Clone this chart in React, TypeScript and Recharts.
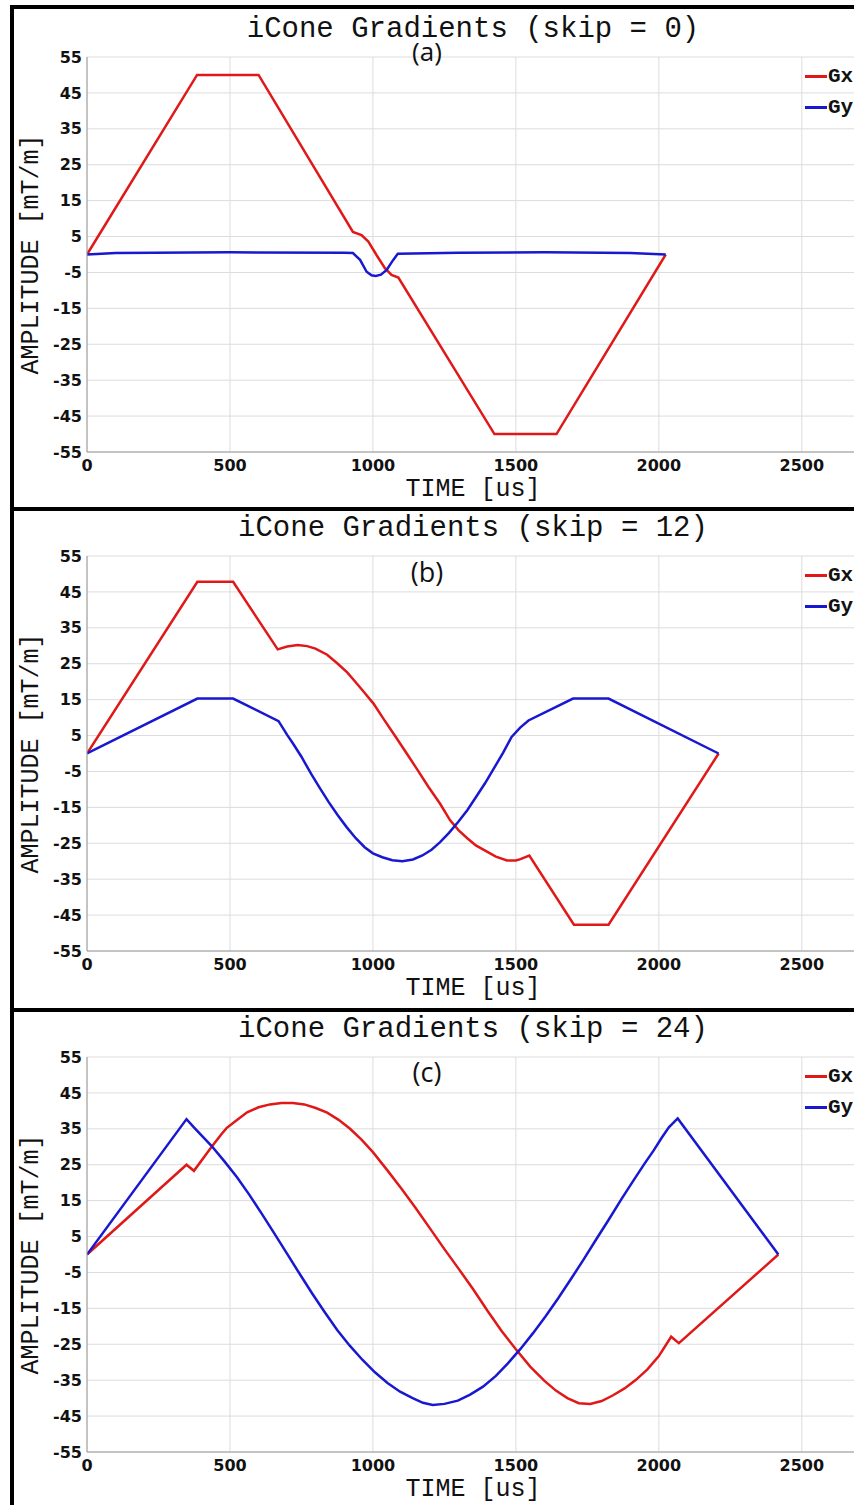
import React from 'react';
import { LineChart, Line, XAxis, YAxis, CartesianGrid, Legend, Label } from 'recharts';

const X_TICKS = [0, 500, 1000, 1500, 2000, 2500];
const Y_TICKS = [-55, -45, -35, -25, -15, -5, 5, 15, 25, 35, 45, 55];
const X_DOMAIN = [0, 2700];
const Y_DOMAIN = [-55, 55];

const TITLES = ['iCone Gradients (skip = 0)', 'iCone Gradients (skip = 12)', 'iCone Gradients (skip = 24)'];
const TAGS = ['(a)', '(b)', '(c)'];
const SERIES_NAMES = ['Gx', 'Gy'];

// Panel (a): skip = 0
const aGxTime = [0, 385, 600, 930, 960, 984, 1013, 1042, 1065, 1089, 1425, 1642, 2024];
const aGxVal = [0, 50, 50, 6.3, 5.4, 3.6, -0.2, -3.8, -5.7, -6.4, -50, -50, 0];
const aGyTime = [0, 100, 500, 900, 930, 955, 978, 995, 1010, 1028, 1048, 1071, 1087, 1300, 1600, 1900, 2024];
const aGyVal = [0, 0.4, 0.6, 0.5, 0.4, -1.5, -4.8, -5.8, -6.0, -5.6, -4.3, -1.5, 0.2, 0.5, 0.6, 0.4, 0];

// Panel (b): skip = 12
const bGxTime = [0, 386, 511, 667, 700, 737, 770, 799, 840, 877, 910, 939, 970, 1002, 1040, 1080, 1120, 1157, 1195, 1235, 1270, 1300, 1330, 1360, 1391, 1430, 1469, 1500, 1516, 1547, 1703, 1824, 2209];
const bGxVal = [0, 47.8, 47.8, 29.0, 29.8, 30.2, 29.9, 29.2, 27.5, 25, 22.6, 19.9, 17.0, 13.9, 9.3, 4.6, -0.2, -4.7, -9.4, -14, -18.6, -21.4, -23.6, -25.6, -27, -28.7, -29.8, -29.8, -29.4, -28.4, -47.7, -47.7, 0];
const bGyTime = [0, 386, 511, 670, 700, 721, 750, 784, 815, 846, 877, 908, 940, 971, 1000, 1033, 1068, 1103, 1140, 1173, 1205, 1235, 1266, 1298, 1330, 1360, 1392, 1422, 1455, 1485, 1515, 1544, 1700, 1824, 2209];
const bGyVal = [0, 15.3, 15.3, 9.0, 5.2, 2.7, -0.9, -5.7, -9.7, -13.6, -17.2, -20.5, -23.6, -26.1, -27.8, -28.9, -29.7, -30.0, -29.5, -28.4, -26.8, -24.7, -22.1, -19.1, -15.8, -12.2, -8.3, -4.3, 0.2, 4.6, 7.2, 9.2, 15.3, 15.3, 0];

// Panel (c): skip = 24
const cGxTime = [0, 348, 374, 436, 470, 488, 520, 560, 600, 640, 680, 720, 760, 800, 840, 880, 920, 960, 1000, 1050, 1100, 1150, 1200, 1250, 1300, 1350, 1400, 1450, 1500, 1550, 1600, 1640, 1680, 1720, 1760, 1800, 1840, 1880, 1920, 1960, 2000, 2043, 2070, 2418];
const cGxVal = [0, 25, 23.3, 30, 33.5, 35.2, 37.2, 39.6, 41.0, 41.8, 42.2, 42.2, 41.8, 40.8, 39.5, 37.5, 35.0, 32.0, 28.5, 23.5, 18.3, 12.9, 7.2, 1.5, -4.0, -9.6, -15.6, -21.3, -26.4, -31.2, -35.2, -37.9, -40.0, -41.4, -41.6, -40.8, -39.2, -37.3, -34.9, -32.0, -28.3, -22.9, -24.7, 0];
const cGyTime = [0, 348, 374, 436, 480, 524, 568, 611, 655, 699, 743, 787, 831, 875, 919, 963, 1007, 1051, 1095, 1139, 1175, 1209, 1250, 1297, 1340, 1385, 1430, 1472, 1516, 1560, 1604, 1648, 1692, 1736, 1780, 1824, 1868, 1912, 1950, 1982, 2010, 2035, 2066, 2418];
const cGyVal = [0, 37.7, 35.4, 30.2, 26.0, 21.6, 16.6, 11.4, 5.9, 0.3, -5.3, -10.8, -16.0, -21, -25.4, -29.3, -32.8, -35.8, -38.2, -40, -41.3, -41.9, -41.6, -40.7, -39.0, -36.8, -33.8, -30.3, -26.3, -21.9, -17.2, -12.2, -6.9, -1.5, 4.1, 9.6, 15.3, 20.7, 25.3, 29, 32.5, 35.4, 37.9, 0];

const toPts = (t: number[], v: number[]) => t.map((x, i) => ({ t: x, v: v[i] }));

const PANEL_DATA = [
  { gx: toPts(aGxTime, aGxVal), gy: toPts(aGyTime, aGyVal) },
  { gx: toPts(bGxTime, bGxVal), gy: toPts(bGyTime, bGyVal) },
  { gx: toPts(cGxTime, cGxVal), gy: toPts(cGyTime, cGyVal) },
];

const RED = '#e01818';
const BLUE = '#1818d0';
const MONO = '"Liberation Mono", "DejaVu Sans Mono", monospace';

const LAYOUTS = [
  { top: 5, height: 502, mTop: 48, mBottom: 5, tagDy: 4, tagSize: 26 },
  { top: 507, height: 501, mTop: 45, mBottom: 7, tagDy: 26, tagSize: 27 },
  { top: 1008, height: 497, mTop: 45, mBottom: 3, tagDy: 25, tagSize: 27 },
];

const tickStyle = { fill: '#111', fontSize: 16, fontFamily: '"DejaVu Sans", sans-serif', fontWeight: 700 };

const YLabel = (props: any) => {
  const vb = props.viewBox || {};
  const cx = (vb.x || 0) + 24;
  const cy = (vb.y || 0) + (vb.height || 0) / 2;
  return (
    <text
      x={cx}
      y={cy}
      transform={`rotate(-90, ${cx}, ${cy})`}
      textAnchor="middle"
      fontFamily={MONO}
      fontSize={25}
      fill="#111"
    >
      AMPLITUDE [mT/m]
    </text>
  );
};

const LegendBox = (props: any) => {
  const payload = props.payload || [];
  return (
    <div>
      {payload.map((p: any, i: number) => (
        <div key={i} style={{ display: 'flex', alignItems: 'center', height: 31 }}>
          <div style={{ width: 22, height: 3, background: p.color }} />
          <span style={{ fontFamily: MONO, fontWeight: 700, fontSize: 21, color: '#111', marginLeft: 1 }}>{p.value}</span>
        </div>
      ))}
    </div>
  );
};

function Panel({ idx }: { idx: number }) {
  const L = LAYOUTS[idx];
  const d = PANEL_DATA[idx];
  const chartH = L.height - 4;
  return (
    <div
      style={{
        position: 'absolute',
        left: 10,
        top: L.top,
        width: 844,
        height: L.height,
        borderLeft: '4px solid #000',
        borderTop: '4px solid #000',
        boxSizing: 'border-box',
        background: '#fff',
        overflow: 'hidden',
      }}
    >
      <LineChart width={860} height={chartH} margin={{ top: L.mTop, right: 15, bottom: L.mBottom, left: 0 }}>
        <CartesianGrid stroke="#dcdcdc" />
        <XAxis
          type="number"
          dataKey="t"
          domain={X_DOMAIN}
          ticks={X_TICKS}
          interval={0}
          allowDataOverflow
          height={50}
          tickLine={false}
          tickSize={0}
          tickMargin={8}
          stroke="#9a9a9a"
          tick={tickStyle}
        >
          <Label value="TIME [us]" position="insideBottom" offset={6} style={{ fontFamily: MONO, fontSize: 25, fill: '#111' }} />
        </XAxis>
        <YAxis
          type="number"
          domain={Y_DOMAIN}
          ticks={Y_TICKS}
          interval={0}
          allowDataOverflow
          width={73}
          tickLine={false}
          tickSize={0}
          tickMargin={5}
          stroke="#9a9a9a"
          tick={tickStyle}
        >
          <Label content={YLabel} />
        </YAxis>
        <Legend
          layout="vertical"
          align="center"
          verticalAlign="middle"
          content={LegendBox}
          wrapperStyle={{ position: 'absolute', left: 791, top: L.mTop + 3.5, width: 80 }}
        />
        <Line data={d.gx} dataKey="v" name={SERIES_NAMES[0]} type="linear" stroke={RED} strokeWidth={2.5} dot={false} isAnimationActive={false} />
        <Line data={d.gy} dataKey="v" name={SERIES_NAMES[1]} type="linear" stroke={BLUE} strokeWidth={2.5} dot={false} isAnimationActive={false} />
      </LineChart>
      <svg width={840} height={chartH} style={{ position: 'absolute', left: 0, top: 0, pointerEvents: 'none' }}>
        <text x={459} y={L.mTop - 20} textAnchor="middle" fontFamily={MONO} fontSize={29} fill="#111">
          {TITLES[idx]}
        </text>
        <text x={413} y={L.mTop + L.tagDy} textAnchor="middle" fontFamily='"Open Sans", sans-serif' fontSize={L.tagSize} fill="#111">
          {TAGS[idx]}
        </text>
      </svg>
    </div>
  );
}

export default function App() {
  return (
    <div style={{ position: 'absolute', left: 0, top: 0, width: 854, height: 1505, overflow: 'hidden', background: '#fff' }}>
      <Panel idx={0} />
      <Panel idx={1} />
      <Panel idx={2} />
    </div>
  );
}
